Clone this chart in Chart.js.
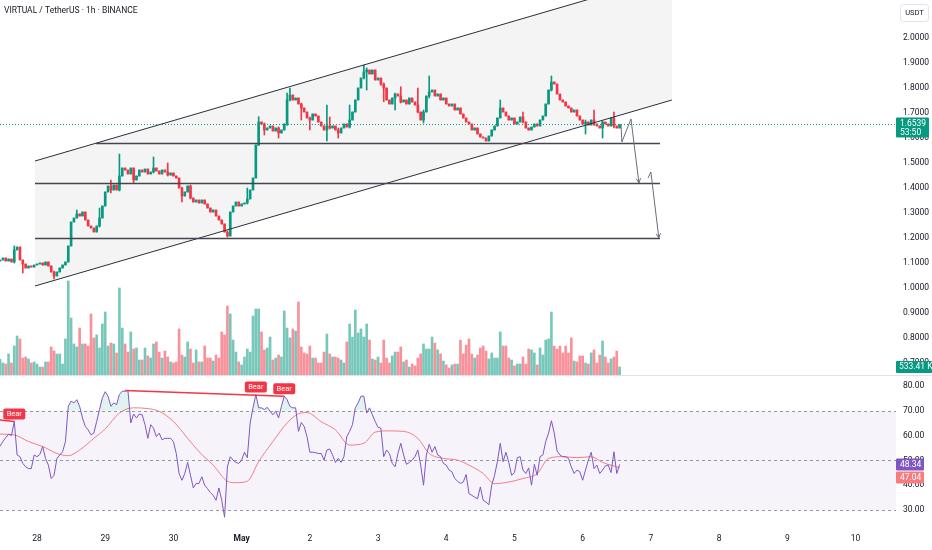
<!DOCTYPE html>
<html>
<head>
<meta charset="utf-8">
<script src="https://cdn.jsdelivr.net/npm/chart.js@4.4.1/dist/chart.umd.min.js"></script>
<style>
  body { margin: 0; background: #fff; }
  #wrap { position: relative; width: 932px; height: 550px; overflow: hidden; }
  canvas { position: absolute; left: 0; }
</style>
</head>
<body>
<div id="wrap">
  <canvas id="main" width="932" height="375" style="top:0"></canvas>
  <canvas id="rsi" width="932" height="175" style="top:375px"></canvas>
</div>
<script>
const TITLE = "VIRTUAL / TetherUS \u00b7 1h \u00b7 BINANCE";
const FONT = "Roboto, 'Noto Sans', sans-serif";
const FIRST_HOUR = -13; // first candle, hours after Apr 28 00:00
const VIEW_HOURS = [-13.02, 302.25];
const PRICE_RANGE = [0.652, 2.152];
const VOL_RANGE = [0, 25000];
const RSI_RANGE = [22.74, 84.44];

const dayTicks = [0, 24, 48, 72, 96, 120, 144, 168, 192, 216, 240, 264, 288];
const dayLabels = ["28", "29", "30", "May", "2", "3", "4", "5", "6", "7", "8", "9", "10"];
const priceTicks = [0.7, 0.8, 0.9, 1.0, 1.1, 1.2, 1.3, 1.4, 1.5, 1.6, 1.7, 1.8, 1.9, 2.0];
const rsiTicks = [30, 40, 50, 60, 70, 80];

// hourly closes (USDT)
const firstOpen = 1.108;
const closes = [
  1.112,1.120,1.108,1.116,1.104,1.152,1.164,1.112,1.096,1.080,
  1.088,1.084,1.092,1.096,1.100,1.092,1.104,1.088,1.064,1.048,
  1.064,1.080,1.092,1.104,1.168,1.264,1.280,1.296,1.288,1.304,
  1.272,1.248,1.240,1.224,1.248,1.280,1.328,1.384,1.408,1.392,
  1.412,1.392,1.448,1.480,1.472,1.456,1.480,1.432,1.448,1.472,
  1.464,1.476,1.456,1.464,1.480,1.468,1.456,1.472,1.464,1.452,
  1.460,1.448,1.440,1.400,1.368,1.384,1.408,1.360,1.344,1.352,
  1.340,1.352,1.336,1.320,1.304,1.312,1.288,1.272,1.256,1.224,
  1.208,1.304,1.328,1.344,1.328,1.336,1.340,1.356,1.392,1.440,
  1.572,1.664,1.656,1.632,1.640,1.648,1.628,1.640,1.620,1.632,
  1.656,1.752,1.772,1.752,1.760,1.736,1.720,1.704,1.680,1.672,
  1.696,1.688,1.664,1.648,1.632,1.648,1.640,1.648,1.632,1.620,
  1.640,1.656,1.644,1.672,1.704,1.752,1.800,1.840,1.864,1.872,
  1.856,1.872,1.832,1.840,1.816,1.800,1.752,1.736,1.760,1.776,
  1.768,1.744,1.752,1.736,1.760,1.744,1.732,1.704,1.672,1.704,
  1.768,1.784,1.792,1.768,1.776,1.752,1.760,1.736,1.728,1.736,
  1.712,1.720,1.696,1.680,1.664,1.656,1.632,1.640,1.616,1.604,
  1.600,1.588,1.608,1.632,1.648,1.680,1.720,1.704,1.688,1.672,
  1.680,1.656,1.664,1.684,1.664,1.640,1.632,1.644,1.656,1.648,
  1.672,1.688,1.736,1.792,1.824,1.816,1.776,1.752,1.744,1.728,
  1.720,1.704,1.712,1.688,1.672,1.656,1.664,1.652,1.672,1.656,
  1.648,1.640,1.664,1.656,1.648,1.680,1.648,1.640,1.6539
];

// candles with visible wicks: index, high, low
const wickAt   = [5, 8, 19, 27, 35, 39, 42, 47, 54, 59, 64, 67, 80, 87, 91, 93, 98, 101, 102, 106,
                  109, 115, 116, 119, 123, 128, 129, 134, 135, 139, 141, 147, 149, 151, 176, 184, 194, 206, 209, 212, 216];
const wickHigh = [1.168, 1.112, 1.068, 1.312, 1.320, 1.432, 1.536, 1.480, 1.524, 1.500, 1.404, 1.412, 1.228, 1.400, 1.685, 1.660, 1.644, 1.780, 1.800, 1.740,
                  1.684, 1.732, 1.684, 1.640, 1.732, 1.892, 1.880, 1.832, 1.820, 1.780, 1.805, 1.800, 1.712, 1.848, 1.752, 1.704, 1.848, 1.672, 1.712, 1.668, 1.704];
const wickLow  = [1.100, 1.060, 1.036, 1.280, 1.244, 1.380, 1.388, 1.420, 1.460, 1.448, 1.344, 1.356, 1.204, 1.336, 1.570, 1.612, 1.600, 1.650, 1.748, 1.672,
                  1.632, 1.588, 1.636, 1.600, 1.640, 1.836, 1.792, 1.810, 1.745, 1.712, 1.740, 1.700, 1.660, 1.760, 1.680, 1.660, 1.788, 1.616, 1.650, 1.600, 1.640];

// volume, thousands
const volumes = [
  1050,800,730,1400,800,1930,2600,2400,1130,1200,
  1070,800,870,730,530,530,870,870,1870,1600,
  1400,1400,730,2400,6270,3800,2070,1870,3130,2070,
  2070,1930,4070,2470,2670,1800,3400,4200,1930,2130,
  2070,1470,5800,3130,2070,1530,2870,1730,1800,1000,
  1000,1800,1270,1130,2070,2200,1530,1130,1600,1200,
  870,800,870,3070,1330,1200,2200,1730,800,1670,
  870,870,1930,1130,1130,930,1330,1130,2870,2670,
  4600,4070,2330,1530,870,670,1200,1730,1530,3930,
  4400,4400,2870,1670,1800,2530,1000,1130,1330,1200,
  4270,3130,2470,3070,2930,4870,1870,1470,1400,1930,
  1130,1130,800,800,1530,2730,1400,1200,1200,1130,
  1000,800,2200,3400,2530,4330,2800,3070,2530,3400,
  2330,1070,1000,1200,800,2330,1130,800,1270,1530,
  1530,1870,870,1000,530,730,600,1130,1400,2070,
  1730,1730,2530,2130,1670,1400,930,670,470,670,
  730,730,2330,1400,2000,2400,1400,1130,1330,1800,
  1930,1600,1070,1470,1130,1130,2870,1930,1930,1130,
  1000,600,730,730,1200,730,1730,1670,1470,670,
  1800,1330,2330,2400,4200,1930,1730,1930,1470,1930,
  1470,2470,930,870,1270,1270,800,730,1470,1670,
  800,1330,2270,1200,800,1070,1200,1600,533.41
];

// RSI(14)
const rsi = [
  55.8,57.6,59.2,60.6,60.0,65.7,52.2,51.5,48.8,47.4,
  46.7,46.7,52.2,51.5,52.4,55.6,50.8,48.1,42.7,44.0,
  50.8,52.2,53.5,57.6,71.8,73.9,73.2,74.5,71.8,67.1,
  63.7,62.3,60.3,61.0,65.7,70.5,75.2,77.7,75.9,71.8,
  73.2,72.5,76.6,77.9,77.9,78.2,65.1,68.7,67.1,68.7,
  68.4,64.4,58.9,64.4,63.0,59.6,61.0,58.3,58.9,58.9,
  58.9,57.6,52.8,44.7,42.0,44.7,49.2,44.0,38.9,40.7,
  40.7,43.4,40.0,38.6,37.0,35.9,33.9,38.9,33.9,27.1,
  47.4,51.5,50.1,49.2,48.8,50.1,53.3,51.1,65.1,71.2,
  76.6,71.2,71.2,70.5,71.4,69.8,68.4,69.8,67.1,71.8,
  75.9,74.5,71.8,71.2,71.2,61.7,65.3,63.7,59.6,53.3,
  53.3,53.1,52.8,52.8,50.1,54.2,54.6,52.2,49.2,50.8,
  49.2,51.5,59.6,61.7,64.4,71.2,73.2,75.9,75.9,69.1,
  71.2,68.4,65.7,63.3,63.0,51.5,54.2,52.8,48.8,47.4,
  52.8,56.9,52.2,48.4,49.2,50.1,51.5,54.2,48.1,40.0,
  52.2,56.5,53.3,55.6,52.2,51.5,48.8,48.1,46.1,45.4,
  42.7,41.6,40.7,41.3,44.3,36.6,35.9,35.2,34.5,39.3,
  33.9,33.2,32.1,40.0,44.0,49.5,56.9,49.5,53.3,49.2,
  44.0,45.1,51.1,51.5,46.1,44.7,47.0,40.0,48.4,44.0,
  51.5,52.2,57.6,61.0,66.0,61.0,53.8,52.2,51.5,51.5,
  50.8,47.4,44.7,46.1,45.4,42.0,46.1,50.1,53.3,46.7,
  48.1,44.7,46.1,47.8,48.1,45.1,53.5,44.7,48.34
];

// RSI-based MA, read at these candle indexes
const maAt  = [0, 5, 10, 15, 20, 24, 28, 33, 37, 42, 47, 52, 56, 61, 66, 70, 75, 80, 83, 87, 91, 96, 101, 105, 108, 113, 118, 123, 128, 132, 137, 142, 147, 151, 156, 161, 165, 170, 174, 179, 184, 189, 193, 198, 203, 208, 212, 218];
const maVal = [60.6, 60.3, 57.6, 55.6, 52.8, 51.9, 54.2, 58.9, 62.7, 69.1, 71.2, 70.9, 69.8, 65.7, 58.9, 53.5, 48.1, 41.6, 41.0, 41.6, 49.5, 57.6, 65.1, 68.8, 69.3, 65.6, 62.3, 56.2, 56.9, 61.4, 61.9, 61.7, 58.9, 52.8, 50.8, 50.1, 48.1, 44.7, 40.6, 41.3, 42.7, 44.7, 50.8, 51.5, 51.1, 51.5, 49.2, 47.04];

// drawings, in (hour, price)
const channelHours = [-0.7, 223.4];
const channelUpper = [1.508, 2.252];
const channelLower = [1.008, 1.752];
const levelPrices = [1.58, 1.42, 1.20];
const levelFrom   = [20.8, -0.7, -0.7];
const levelTo     = [219.2, 219.2, 219.2];
const arrowPaths = [
  [[205.5, 1.652], [205.8, 1.584], [209.0, 1.676], [211.8, 1.42]],
  [[215.0, 1.44], [216.0, 1.464], [218.8, 1.20]]
];

// RSI divergence: [index, value] pairs and Bear labels
const divFrom = [[-3, 66.6], [44, 78.2]];
const divTo   = [[5, 65.7], [100, 75.9]];
const bearAt  = [5, 90, 100];

const UP = "#089981", DOWN = "#f23645";
const hours = closes.map((c, i) => FIRST_HOUR + i);
const opens = closes.map((c, i) => i === 0 ? firstOpen : closes[i - 1]);
const isUp = closes.map((c, i) => c >= opens[i]);
const highs = closes.map((c, i) => Math.max(c, opens[i]));
const lows = closes.map((c, i) => Math.min(c, opens[i]));
wickAt.forEach((idx, k) => {
  highs[idx] = Math.max(highs[idx], wickHigh[k]);
  lows[idx] = Math.min(lows[idx], wickLow[k]);
});

function fixWidth(w) {
  return function(scale) {
    scale.width = w;
    scale.paddingTop = 0;
    scale.paddingBottom = 0;
  };
}

function roundBox(ctx, x, y, w, h, r, fill) {
  ctx.fillStyle = fill;
  ctx.beginPath();
  if (ctx.roundRect) ctx.roundRect(x, y, w, h, r); else ctx.rect(x, y, w, h);
  ctx.fill();
}

function arrowHead(ctx, x0, y0, x1, y1, len) {
  const a = Math.atan2(y1 - y0, x1 - x0);
  ctx.beginPath();
  ctx.moveTo(x1 - len * Math.cos(a - 0.45), y1 - len * Math.sin(a - 0.45));
  ctx.lineTo(x1, y1);
  ctx.lineTo(x1 - len * Math.cos(a + 0.45), y1 - len * Math.sin(a + 0.45));
  ctx.stroke();
}

const mainOverlay = {
  id: "mainOverlay",
  beforeDatasetsDraw(chart) {
    const { ctx, chartArea: a, scales: { x, y } } = chart;
    ctx.save();
    ctx.beginPath();
    ctx.rect(a.left, a.top, a.width, a.height);
    ctx.clip();
    ctx.fillStyle = "#f4f4f4";
    ctx.beginPath();
    ctx.moveTo(x.getPixelForValue(channelHours[0]), y.getPixelForValue(channelUpper[0]));
    ctx.lineTo(x.getPixelForValue(channelHours[1]), y.getPixelForValue(channelUpper[1]));
    ctx.lineTo(x.getPixelForValue(channelHours[1]), y.getPixelForValue(channelLower[1]));
    ctx.lineTo(x.getPixelForValue(channelHours[0]), y.getPixelForValue(channelLower[0]));
    ctx.closePath();
    ctx.fill();
    ctx.restore();
  },
  afterDatasetsDraw(chart) {
    const { ctx, chartArea: a, scales: { x, y } } = chart;
    ctx.save();
    ctx.beginPath();
    ctx.rect(a.left, a.top, a.width, a.height);
    ctx.clip();

    // last price dotted line
    const lastY = y.getPixelForValue(closes[closes.length - 1]);
    ctx.strokeStyle = UP;
    ctx.lineWidth = 1;
    ctx.setLineDash([1, 2]);
    ctx.beginPath();
    ctx.moveTo(a.left, lastY);
    ctx.lineTo(a.right, lastY);
    ctx.stroke();
    ctx.setLineDash([]);

    // channel
    ctx.strokeStyle = "#2a2e39";
    ctx.lineWidth = 1;
    [channelUpper, channelLower].forEach(line => {
      ctx.beginPath();
      ctx.moveTo(x.getPixelForValue(channelHours[0]), y.getPixelForValue(line[0]));
      ctx.lineTo(x.getPixelForValue(channelHours[1]), y.getPixelForValue(line[1]));
      ctx.stroke();
    });

    // horizontal levels
    ctx.strokeStyle = "#434651";
    ctx.lineWidth = 1.4;
    levelPrices.forEach((p, k) => {
      const py = Math.round(y.getPixelForValue(p)) + 0.5;
      ctx.beginPath();
      ctx.moveTo(x.getPixelForValue(levelFrom[k]), py);
      ctx.lineTo(x.getPixelForValue(levelTo[k]), py);
      ctx.stroke();
    });

    // projected path arrows
    ctx.strokeStyle = "#6a6d78";
    ctx.lineWidth = 1;
    arrowPaths.forEach(path => {
      const pts = path.map(([h, p]) => [x.getPixelForValue(h), y.getPixelForValue(p)]);
      ctx.beginPath();
      pts.forEach(([px, py], k) => k ? ctx.lineTo(px, py) : ctx.moveTo(px, py));
      ctx.stroke();
      const n = pts.length;
      arrowHead(ctx, pts[n - 2][0], pts[n - 2][1], pts[n - 1][0], pts[n - 1][1], 5);
    });
    ctx.restore();
  },
  afterDraw(chart) {
    const { ctx, chartArea: a, scales: { y, yVol } } = chart;
    ctx.save();
    ctx.textBaseline = "middle";

    // title
    ctx.fillStyle = "#131722";
    ctx.font = "8.5px " + FONT;
    ctx.textAlign = "left";
    ctx.fillText(TITLE, 4, 11);

    // currency box
    ctx.fillStyle = "#fff";
    ctx.strokeStyle = "#e0e3eb";
    ctx.beginPath();
    if (ctx.roundRect) ctx.roundRect(a.right + 4.5, 4.5, 28, 17, 3); else ctx.rect(a.right + 4.5, 4.5, 28, 17);
    ctx.fill();
    ctx.stroke();
    ctx.fillStyle = "#131722";
    ctx.font = "7.5px " + FONT;
    ctx.textAlign = "center";
    ctx.fillText("USDT", a.right + 18.5, 13);

    // last price box
    const last = closes[closes.length - 1];
    const ly = y.getPixelForValue(last);
    roundBox(ctx, a.right, ly - 7, 33, 20, 1, UP);
    ctx.fillStyle = "#fff";
    ctx.font = "8.5px " + FONT;
    ctx.textAlign = "left";
    ctx.fillText(last.toFixed(4), a.right + 4, ly - 0.5);
    ctx.fillText("53:50", a.right + 4, ly + 8.5);

    // last volume box
    const lv = volumes[volumes.length - 1];
    const vy = yVol.getPixelForValue(lv);
    roundBox(ctx, a.right, vy - 6, 36, 12, 1, UP);
    ctx.fillStyle = "#fff";
    ctx.fillText(lv.toFixed(2) + " K", a.right + 3, vy);
    ctx.restore();
  }
};

const rsiOverlay = {
  id: "rsiOverlay",
  beforeDatasetsDraw(chart) {
    const { ctx, chartArea: a, scales: { y } } = chart;
    ctx.save();
    ctx.fillStyle = "rgba(126, 87, 194, 0.07)";
    const y70 = y.getPixelForValue(70), y30 = y.getPixelForValue(30);
    ctx.fillRect(a.left, y70, a.width, y30 - y70);
    ctx.strokeStyle = "#9598a1";
    ctx.lineWidth = 1;
    ctx.setLineDash([3, 3]);
    [70, 50, 30].forEach(v => {
      const py = Math.round(y.getPixelForValue(v)) + 0.5;
      ctx.beginPath();
      ctx.moveTo(a.left, py);
      ctx.lineTo(a.right, py);
      ctx.stroke();
    });
    ctx.setLineDash([]);
    // pane separator
    ctx.strokeStyle = "#e0e3eb";
    ctx.beginPath();
    ctx.moveTo(0, 0.5);
    ctx.lineTo(chart.width, 0.5);
    ctx.stroke();
    ctx.restore();
  },
  afterDatasetsDraw(chart) {
    const { ctx, chartArea: a, scales: { x, y } } = chart;
    ctx.save();
    ctx.beginPath();
    ctx.rect(a.left, 0, a.width, a.bottom);
    ctx.clip();
    ctx.strokeStyle = DOWN;
    ctx.lineWidth = 1.5;
    divFrom.forEach((f, k) => {
      const t = divTo[k];
      ctx.beginPath();
      ctx.moveTo(x.getPixelForValue(FIRST_HOUR + f[0]), y.getPixelForValue(f[1]));
      ctx.lineTo(x.getPixelForValue(FIRST_HOUR + t[0]), y.getPixelForValue(t[1]));
      ctx.stroke();
    });
    ctx.font = "7.5px " + FONT;
    ctx.textAlign = "center";
    ctx.textBaseline = "middle";
    bearAt.forEach(idx => {
      const px = x.getPixelForValue(hours[idx]);
      const py = y.getPixelForValue(rsi[idx]);
      roundBox(ctx, px - 11, py - 13, 22, 11, 2, DOWN);
      ctx.fillStyle = "#fff";
      ctx.fillText("Bear", px, py - 7.5);
    });
    ctx.restore();
  },
  afterDraw(chart) {
    const { ctx, chartArea: a, scales: { y } } = chart;
    ctx.save();
    ctx.font = "8.5px " + FONT;
    ctx.textBaseline = "middle";
    ctx.textAlign = "left";
    const r = rsi[rsi.length - 1];
    const m = maVal[maVal.length - 1];
    const ry = y.getPixelForValue(r);
    roundBox(ctx, a.right, ry - 6, 28, 12, 1, "#7e57c2");
    ctx.fillStyle = "#fff";
    ctx.fillText(r.toFixed(2), a.right + 4, ry);
    const my = ry + 13;
    roundBox(ctx, a.right, my - 6, 28, 12, 1, "#f77c80");
    ctx.fillStyle = "#fff";
    ctx.fillText(m.toFixed(2), a.right + 4, my);
    ctx.restore();
  }
};

Chart.defaults.font.family = FONT;
Chart.defaults.font.size = 8.5;
Chart.defaults.color = "#131722";

new Chart(document.getElementById("main"), {
  type: "bar",
  data: {
    datasets: [{
      label: "body",
      data: hours.map((h, i) => ({ x: h, y: [opens[i], closes[i]] })),
      backgroundColor: isUp.map(u => u ? UP : DOWN),
      barThickness: 2,
      minBarLength: 1,
      grouped: false,
      yAxisID: "y"
    }, {
      label: "wick",
      data: hours.map((h, i) => ({ x: h, y: [lows[i], highs[i]] })),
      backgroundColor: isUp.map(u => u ? UP : DOWN),
      barThickness: 1,
      grouped: false,
      yAxisID: "y"
    }, {
      label: "volume",
      data: hours.map((h, i) => ({ x: h, y: volumes[i] })),
      backgroundColor: isUp.map(u => u ? "rgba(8,153,129,0.55)" : "rgba(242,54,69,0.55)"),
      barThickness: 2,
      grouped: false,
      yAxisID: "yVol"
    }]
  },
  options: {
    responsive: false,
    animation: false,
    layout: { padding: 0 },
    plugins: { legend: { display: false }, tooltip: { enabled: false } },
    scales: {
      x: {
        type: "linear",
        display: false,
        offset: false,
        min: VIEW_HOURS[0],
        max: VIEW_HOURS[1],
        grid: { display: false, offset: false }
      },
      y: {
        position: "right",
        min: PRICE_RANGE[0],
        max: PRICE_RANGE[1],
        grid: { display: false, drawTicks: false },
        border: { display: false },
        afterBuildTicks: scale => { scale.ticks = priceTicks.map(v => ({ value: v })); },
        afterFit: fixWidth(36),
        ticks: { padding: 7, callback: v => v.toFixed(4) }
      },
      yVol: {
        display: false,
        min: VOL_RANGE[0],
        max: VOL_RANGE[1]
      }
    }
  },
  plugins: [mainOverlay]
});

new Chart(document.getElementById("rsi"), {
  type: "line",
  data: {
    datasets: [{
      label: "RSI",
      data: hours.map((h, i) => ({ x: h, y: rsi[i] })),
      borderColor: "#7e57c2",
      borderWidth: 1,
      pointRadius: 0,
      tension: 0,
      fill: { target: { value: 70 }, above: "rgba(8,153,129,0.12)", below: "rgba(0,0,0,0)" }
    }, {
      label: "RSI MA",
      data: maAt.map((idx, k) => ({ x: FIRST_HOUR + idx, y: maVal[k] })),
      borderColor: "#f77c80",
      borderWidth: 1,
      pointRadius: 0,
      cubicInterpolationMode: "monotone",
      fill: false
    }]
  },
  options: {
    responsive: false,
    animation: false,
    layout: { padding: 0 },
    plugins: { legend: { display: false }, tooltip: { enabled: false } },
    scales: {
      x: {
        type: "linear",
        min: VIEW_HOURS[0],
        max: VIEW_HOURS[1],
        offset: false,
        grid: { display: false, drawTicks: false },
        border: { display: false },
        afterBuildTicks: scale => { scale.ticks = dayTicks.map(v => ({ value: v })); },
        afterFit: scale => { scale.height = 22; scale.paddingLeft = 0; scale.paddingRight = 0; },
        ticks: {
          padding: 6,
          maxRotation: 0,
          autoSkip: false,
          callback: (v, i) => dayLabels[i],
          font: c => ({ size: 8.5, weight: c.tick && c.tick.label === "May" ? "bold" : "normal" })
        }
      },
      y: {
        position: "right",
        min: RSI_RANGE[0],
        max: RSI_RANGE[1],
        grid: { display: false, drawTicks: false },
        border: { display: false },
        afterBuildTicks: scale => { scale.ticks = rsiTicks.map(v => ({ value: v })); },
        afterFit: fixWidth(36),
        ticks: { padding: 7, callback: v => v.toFixed(2) }
      }
    }
  },
  plugins: [rsiOverlay]
});
</script>
</body>
</html>
